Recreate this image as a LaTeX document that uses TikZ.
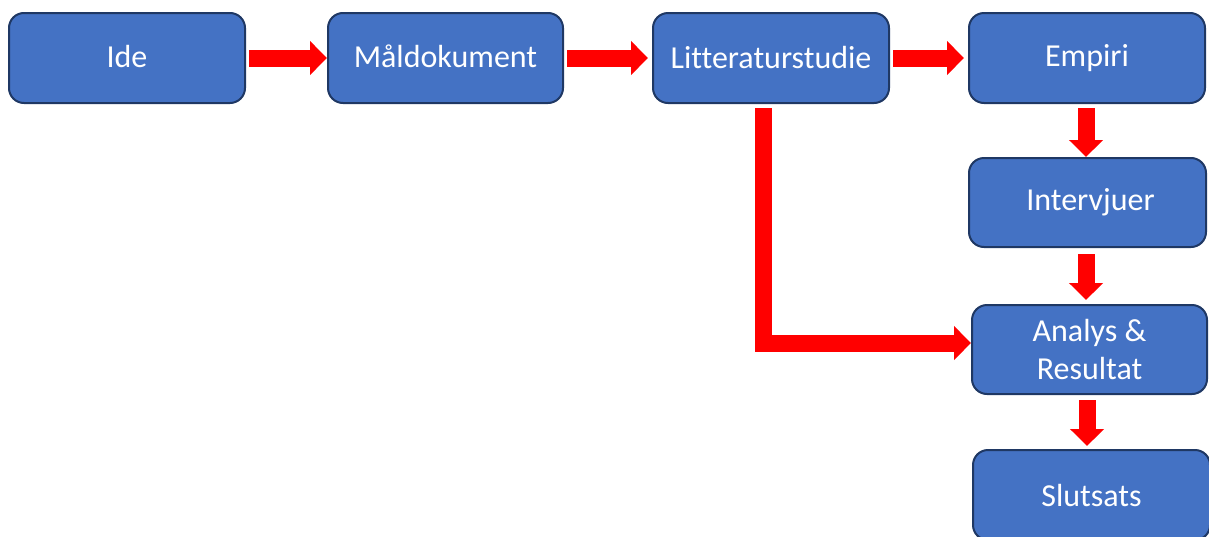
\documentclass[tikz,border=0pt]{standalone}
\usepackage{fontspec}
\setmainfont{Carlito}[Ligatures=NoCommon]
\usetikzlibrary{arrows.meta}
\definecolor{boxfill}{HTML}{4472C4}
\definecolor{boxline}{HTML}{1F3864}
\definecolor{arrred}{HTML}{FF0000}
\begin{document}
\begin{tikzpicture}[x=1pt,y=-1pt,
  stagebox/.style={draw=boxline, line width=2pt, fill=boxfill, rounded corners=15pt,
    minimum width=236pt, minimum height=90pt, inner sep=0pt, text=white,
    align=center, font=\fontsize{32}{38}\selectfont},
  bigarrow/.style={draw=arrred, line width=17pt, line join=miter,
    -{Triangle[width=33pt,length=17pt]}}]
\useasboundingbox (0,0) rectangle (1209,536);
\node[stagebox] (ide) at (127,58) {\raisebox{3pt}{Ide}};
\node[stagebox, minimum width=235pt] (mal) at (445.5,58) {\raisebox{4pt}{Måldokument}};
\node[stagebox] (lit) at (771,58) {Litteraturstudie};
\node[stagebox] (emp) at (1087,58) {\raisebox{1pt}{Empiri}};
\node[stagebox, minimum width=237pt, minimum height=89pt] (int) at (1087.5,202.5) {\hspace{6pt}Intervjuer};
\node[stagebox, minimum width=235pt, minimum height=89pt] (ana) at (1089.5,349.5) {Analys \&\\Resultat};
\node[stagebox, minimum width=237pt] (slu) at (1091.5,495) {Slutsats};
\draw[bigarrow, shorten <=3pt] (ide.east) -- (mal.west);
\draw[bigarrow, shorten <=3pt, shorten >=4pt] (mal.east) -- (lit.west);
\draw[bigarrow, shorten <=3pt, shorten >=4pt] (lit.east) -- (emp.west);
\draw[bigarrow, shorten <=4pt] ([xshift=-1pt]emp.south) -- ([xshift=-1pt]emp.south |- int.north);
\draw[bigarrow, shorten <=6pt, shorten >=4pt] ([xshift=-1.5pt]int.south) -- ([xshift=-1.5pt]int.south |- ana.north);
\draw[bigarrow, shorten <=5pt, shorten >=3pt] ([xshift=-2.5pt]ana.south) -- ([xshift=-2.5pt]ana.south |- slu.north);
\draw[bigarrow] ([xshift=-8pt,yshift=-4pt]lit.south) |- ([yshift=6.5pt]ana.west);
\end{tikzpicture}
\end{document}
